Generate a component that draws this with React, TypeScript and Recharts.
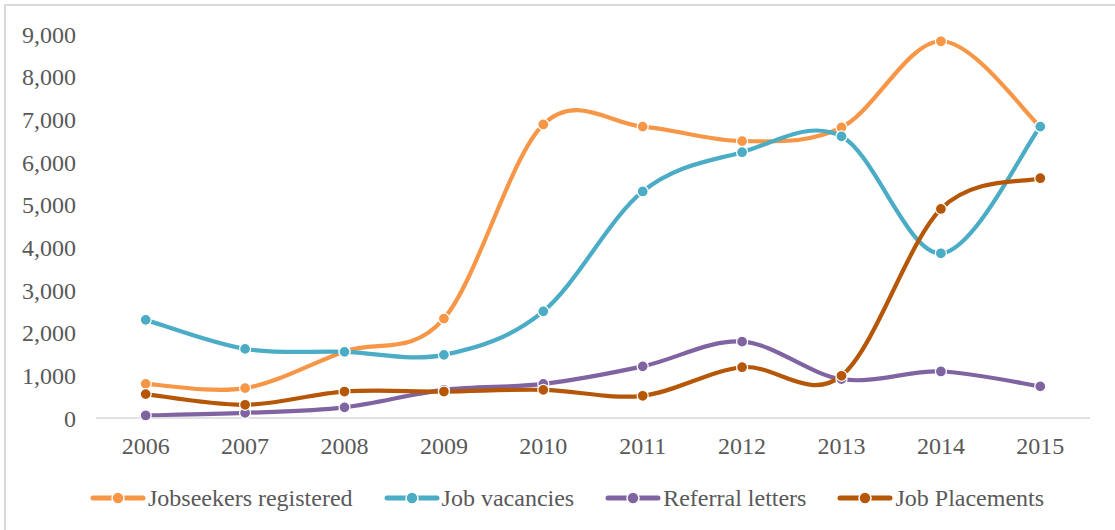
import { LineChart, Line, XAxis, YAxis, Legend } from "recharts";

const years = ["2006", "2007", "2008", "2009", "2010", "2011", "2012", "2013", "2014", "2015"];
const jobseekers = [800, 700, 1560, 2330, 6880, 6830, 6490, 6810, 8830, 6830];
const vacancies = [2300, 1620, 1550, 1480, 2500, 5310, 6230, 6600, 3860, 6830];
const referrals = [60, 120, 250, 660, 800, 1210, 1790, 910, 1090, 740];
const placements = [560, 310, 620, 620, 660, 520, 1190, 990, 4900, 5620];
const yTicks = [0, 1000, 2000, 3000, 4000, 5000, 6000, 7000, 8000, 9000];

const series = [
  { key: "jobseekers", name: "Jobseekers registered", color: "#F79646" },
  { key: "vacancies", name: "Job vacancies", color: "#4BACC6" },
  { key: "referrals", name: "Referral letters", color: "#8064A2" },
  { key: "placements", name: "Job Placements", color: "#B65708" },
];

const data = years.map((year, i) => ({
  year,
  jobseekers: jobseekers[i],
  vacancies: vacancies[i],
  referrals: referrals[i],
  placements: placements[i],
}));

const FONT = "'Liberation Serif', 'Times New Roman', serif";
const TEXT = "#595959";

// Excel-style smoothed line (Catmull-Rom through every point)
function smoothCurve(context: any) {
  let pts: number[][] = [];
  return {
    areaStart() {},
    areaEnd() {},
    lineStart() {
      pts = [];
    },
    point(x: number, y: number) {
      pts.push([+x, +y]);
    },
    lineEnd() {
      const n = pts.length;
      if (!n) return;
      context.moveTo(pts[0][0], pts[0][1]);
      for (let i = 0; i < n - 1; i++) {
        const p0 = pts[i - 1] || pts[i];
        const p1 = pts[i];
        const p2 = pts[i + 1];
        const p3 = pts[i + 2] || pts[i + 1];
        context.bezierCurveTo(
          p1[0] + (p2[0] - p0[0]) / 6,
          p1[1] + (p2[1] - p0[1]) / 6,
          p2[0] - (p3[0] - p1[0]) / 6,
          p2[1] - (p3[1] - p1[1]) / 6,
          p2[0],
          p2[1]
        );
      }
    },
  };
}

function LegendContent() {
  return (
    <div
      style={{
        height: 72,
        boxSizing: "border-box",
        paddingTop: 28,
        paddingLeft: 90,
        display: "flex",
        alignItems: "center",
        fontFamily: FONT,
        fontSize: 24,
        color: TEXT,
        lineHeight: "24px",
      }}
    >
      {series.map((s) => (
        <div key={s.key} style={{ display: "flex", alignItems: "center", marginRight: 31 }}>
          <svg width={56} height={16} style={{ marginRight: 2 }}>
            <line x1={3} y1={8} x2={53} y2={8} stroke={s.color} strokeWidth={5} strokeLinecap="round" />
            <circle cx={28} cy={8} r={6} fill={s.color} stroke="#fff" strokeWidth={1.5} />
          </svg>
          <span>{s.name}</span>
        </div>
      ))}
    </div>
  );
}

export default function App() {
  return (
    <div style={{ position: "absolute", left: 0, top: 0, width: 1115, height: 530, background: "#fff", fontFamily: FONT }}>
      <div
        style={{
          position: "absolute",
          left: 4,
          top: 4,
          width: 1111,
          height: 526,
          borderLeft: "2px solid #D9D9D9",
          borderTop: "2px solid #D9D9D9",
          boxSizing: "border-box",
        }}
      />
      <LineChart width={1115} height={530} data={data} margin={{ top: 34, right: 25, left: 0, bottom: 10 }}>
        <XAxis
          dataKey="year"
          height={30}
          padding={{ left: 49.7, right: 49.7 }}
          axisLine={{ stroke: "#D9D9D9", strokeWidth: 1.5 }}
          tickLine={false}
          tickSize={0}
          tickMargin={19}
          tick={{ fill: TEXT, fontSize: 24, fontFamily: FONT }}
        />
        <YAxis
          width={96}
          domain={[0, 9000]}
          ticks={yTicks}
          interval={0}
          axisLine={false}
          tickLine={false}
          tickSize={0}
          tickMargin={20}
          tickFormatter={(v: number) => v.toLocaleString("en-US")}
          tick={{ fill: TEXT, fontSize: 24, fontFamily: FONT }}
        />
        <Legend verticalAlign="bottom" content={<LegendContent />} />
        {series.map((s) => (
          <Line
            key={s.key}
            dataKey={s.key}
            name={s.name}
            type={smoothCurve as any}
            stroke={s.color}
            strokeWidth={4.2}
            strokeLinecap="round"
            dot={{ r: 5.5, fill: s.color, stroke: "#fff", strokeWidth: 1.25 }}
            activeDot={false}
            isAnimationActive={false}
          />
        ))}
      </LineChart>
    </div>
  );
}
